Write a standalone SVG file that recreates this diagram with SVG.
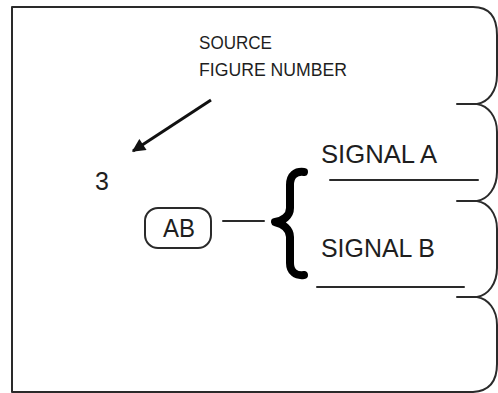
<svg xmlns="http://www.w3.org/2000/svg" width="498" height="393" viewBox="0 0 498 393">
<style>
  .ln { fill: none; stroke: #2a2a2a; stroke-width: 2; stroke-linecap: round; stroke-linejoin: round; }
  .arrow { fill: none; stroke: #111; stroke-width: 3; stroke-linecap: butt; }
  .txt { font-family: "Liberation Sans", Arial, sans-serif; fill: #1e1e1e; }
</style>
<defs>
  <marker id="ah" viewBox="0 0 10 10" refX="9" refY="5" markerWidth="5" markerHeight="4.4" markerUnits="strokeWidth" orient="auto">
    <path d="M0,0 L10,5 L0,10 z" fill="#111"/>
  </marker>
</defs>
<rect width="498" height="393" fill="#ffffff"/>

<g id="frame">
  <path class="ln" d="M473,392 L12,392 L12,7 L473,7
    C490,7 497,18 497,35 L497,75 C497,92 488,102 477,104
    C488,106 497,116 497,132 L497,172 C497,188 488,199 477,201
    C488,203 497,213 497,229 L497,268 C497,284 488,295 477,297
    C488,299 497,309 497,325 L497,364 C497,380 490,391 473,392"/>
  <line class="ln" x1="457" y1="104" x2="477" y2="104"/>
  <line class="ln" x1="457" y1="201" x2="477" y2="201"/>
  <line class="ln" x1="457" y1="297" x2="477" y2="297"/>
</g>

<g id="source-label">
  <text class="txt" x="199" y="49" font-size="18" textLength="73" lengthAdjust="spacingAndGlyphs">SOURCE</text>
  <text class="txt" x="199" y="76" font-size="18" textLength="148" lengthAdjust="spacingAndGlyphs">FIGURE NUMBER</text>
</g>

<g id="figure-number">
  <text class="txt" x="95" y="190" font-size="25">3</text>
</g>

<g id="node-ab">
  <rect x="145" y="208" width="66" height="40" rx="13" ry="13" fill="#fff" stroke="#2a2a2a" stroke-width="2"/>
  <text class="txt" x="179" y="237" font-size="25" text-anchor="middle" textLength="32" lengthAdjust="spacingAndGlyphs">AB</text>
</g>

<g id="brace">
  <path d="M304,172 C296,171 290,175 290,185 L290,208 C290,216 283,221 275,222 C283,224 290,229 290,237 L290,263 C290,272 296,276 304,275" fill="none" stroke="#000" stroke-width="8" stroke-linecap="round" stroke-linejoin="round"/>
</g>

<g id="signal-a">
  <text class="txt" x="321" y="163" font-size="25" textLength="116" lengthAdjust="spacingAndGlyphs">SIGNAL A</text>
  <line class="ln" x1="330" y1="180" x2="478" y2="180"/>
</g>

<g id="signal-b">
  <text class="txt" x="321" y="257" font-size="25" textLength="114" lengthAdjust="spacingAndGlyphs">SIGNAL B</text>
  <line class="ln" x1="317" y1="287" x2="464" y2="287"/>
</g>

<g id="connectors">
  <line class="arrow" x1="211" y1="100" x2="133" y2="151" marker-end="url(#ah)"/>
  <line class="ln" x1="223" y1="221" x2="264" y2="221"/>
</g>
</svg>
